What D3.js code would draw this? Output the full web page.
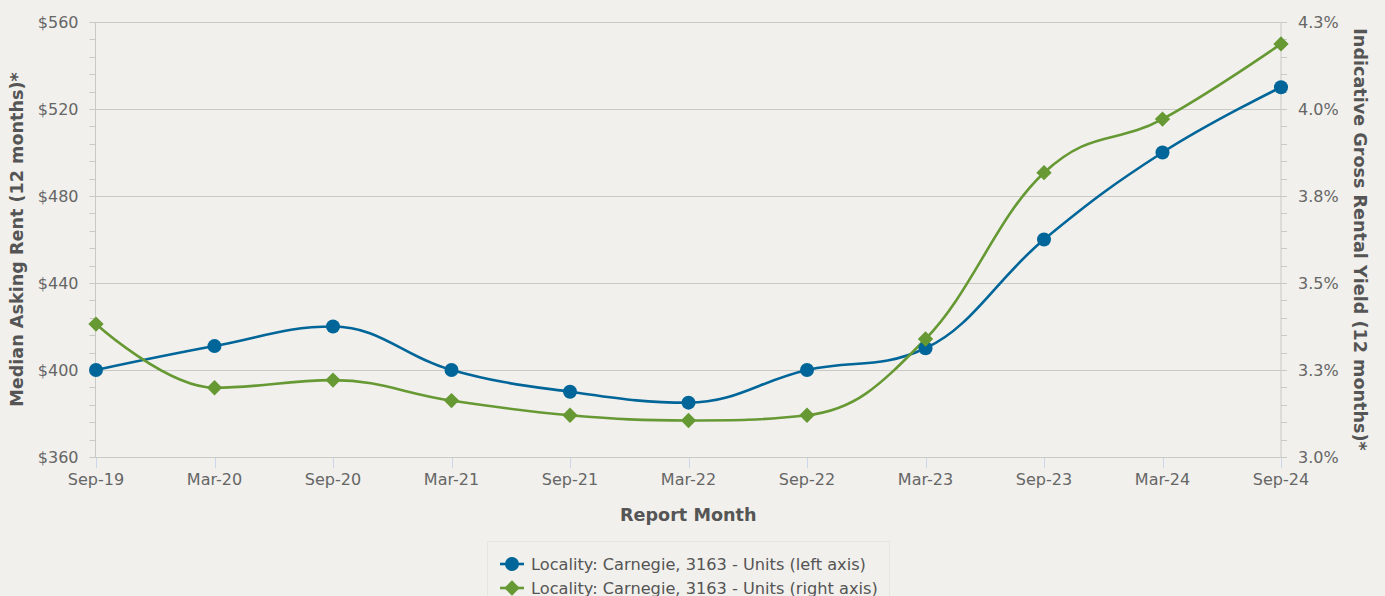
<!DOCTYPE html>
<html lang="en">
<head>
<meta charset="UTF-8">
<title>Median Asking Rent and Gross Rental Yield - Carnegie 3163 Units</title>
<script src="https://d3js.org/d3.v7.min.js"></script>
<style>
    body { margin: 0; background: #f1f0ec; }
    svg text { font-family: "DejaVu Sans", Verdana, sans-serif; }
</style>
</head>
<body>
<script>
// data
const months = ["Sep-19", "Mar-20", "Sep-20", "Mar-21", "Sep-21", "Mar-22", "Sep-22", "Mar-23", "Sep-23", "Mar-24", "Sep-24"];
const rentValues = [400, 411, 420, 400, 390, 385, 400, 410, 460, 500, 530];
const yieldValues = [3.382, 3.199, 3.221, 3.162, 3.120, 3.105, 3.120, 3.339, 3.817, 3.971, 4.187];
const rentTicks = [360, 400, 440, 480, 520, 560];
const yieldTicks = [3.0, 3.25, 3.5, 3.75, 4.0, 4.25];
const seriesNames = ["Locality: Carnegie, 3163 - Units (left axis)", "Locality: Carnegie, 3163 - Units (right axis)"];

const width = 1385, height = 596;
const margin = {top: 22, right: 104, bottom: 139, left: 95.5};
const blue = "#006699", green = "#669933";

const svg = d3.select("body").append("svg")
    .attr("width", width)
    .attr("height", height);

svg.append("rect").attr("width", width).attr("height", height).attr("fill", "#f1f0ec");

const x = d3.scalePoint()
    .domain(months)
    .range([96, width - margin.right]);

const yLeft = d3.scaleLinear()
    .domain([360, 560])
    .range([height - margin.bottom, margin.top]);

const yRight = d3.scaleLinear()
    .domain([3.0, 4.25])
    .range([height - margin.bottom, margin.top]);

const plotLeft = margin.left, plotRight = width - margin.right;

// gridlines
svg.append("g")
    .selectAll("line")
    .data(rentTicks)
    .join("line")
    .attr("x1", plotLeft).attr("x2", plotRight)
    .attr("y1", d => Math.round(yLeft(d)) + 0.5)
    .attr("y2", d => Math.round(yLeft(d)) + 0.5)
    .attr("stroke", "#c9c9c6");

// left axis with minor ticks
const minorLeft = d3.range(360, 561, 8);
const gl = svg.append("g").attr("transform", `translate(${plotLeft},0)`);
gl.append("line").attr("y1", yLeft(560)).attr("y2", yLeft(360)).attr("stroke", "#c9c9c6");
gl.selectAll("line.minor")
    .data(minorLeft)
    .join("line").attr("class", "minor")
    .attr("x1", -6).attr("x2", 0)
    .attr("y1", d => Math.round(yLeft(d)) + 0.5)
    .attr("y2", d => Math.round(yLeft(d)) + 0.5)
    .attr("stroke", "#c9c9c6");
gl.selectAll("text")
    .data(rentTicks)
    .join("text")
    .attr("x", -17)
    .attr("y", d => yLeft(d) + 6)
    .attr("text-anchor", "end")
    .attr("fill", "#666")
    .style("font-size", "16px")
    .text(d => "$" + d);

// right axis with minor ticks
const minorRight = d3.range(0, 26).map(i => 3.0 + i * 0.05);
const gr = svg.append("g").attr("transform", `translate(${plotRight},0)`);
gr.append("line").attr("y1", yRight(4.25)).attr("y2", yRight(3.0)).attr("stroke", "#c9c9c6");
gr.selectAll("line.minor")
    .data(minorRight)
    .join("line").attr("class", "minor")
    .attr("x1", 0).attr("x2", 6)
    .attr("y1", d => Math.round(yRight(d)) + 0.5)
    .attr("y2", d => Math.round(yRight(d)) + 0.5)
    .attr("stroke", "#c9c9c6");
gr.selectAll("text")
    .data(yieldTicks)
    .join("text")
    .attr("x", 17)
    .attr("y", d => yRight(d) + 6)
    .attr("fill", "#666")
    .style("font-size", "16px")
    .text(d => d.toFixed(1) + "%");

// x axis
const gx = svg.append("g").attr("transform", `translate(0,${height - margin.bottom})`);
gx.append("line").attr("x1", plotLeft).attr("x2", plotRight).attr("y1", 0.5).attr("y2", 0.5).attr("stroke", "#c9c9c6");
gx.selectAll("line.tick")
    .data(months)
    .join("line").attr("class", "tick")
    .attr("x1", d => Math.round(x(d)) + 0.5).attr("x2", d => Math.round(x(d)) + 0.5)
    .attr("y1", 1).attr("y2", 11)
    .attr("stroke", "#ccd6eb");
gx.selectAll("text")
    .data(months)
    .join("text")
    .attr("x", d => x(d))
    .attr("y", 28)
    .attr("text-anchor", "middle")
    .attr("fill", "#666")
    .style("font-size", "16px")
    .text(d => d);

// axis titles
svg.append("text")
    .attr("x", (plotLeft + plotRight) / 2)
    .attr("y", 521)
    .attr("text-anchor", "middle")
    .attr("fill", "#555")
    .style("font-size", "17.6px")
    .style("font-weight", "bold")
    .text("Report Month");

svg.append("text")
    .attr("transform", `translate(23,${(yLeft(360) + yLeft(560)) / 2}) rotate(-90)`)
    .attr("text-anchor", "middle")
    .attr("fill", "#555")
    .style("font-size", "17.6px")
    .style("font-weight", "bold")
    .text("Median Asking Rent (12 months)*");

svg.append("text")
    .attr("transform", `translate(1354,${(yRight(3.0) + yRight(4.25)) / 2}) rotate(90)`)
    .attr("text-anchor", "middle")
    .attr("fill", "#555")
    .style("font-size", "17.6px")
    .style("font-weight", "bold")
    .text("Indicative Gross Rental Yield (12 months)*");

// spline path in the style of the original charting tool
function splinePath(pts) {
    const smoothing = 1.5, denom = smoothing + 1;
    const p = d3.path();
    let lastRight = null;
    pts.forEach((pt, i) => {
        const [px, py] = pt;
        if (i === 0) { p.moveTo(px, py); return; }
        const last = pts[i - 1], next = pts[i + 1];
        let lc = null, rc = null;
        if (next) {
            let lcx = (smoothing * px + last[0]) / denom;
            let lcy = (smoothing * py + last[1]) / denom;
            let rcx = (smoothing * px + next[0]) / denom;
            let rcy = (smoothing * py + next[1]) / denom;
            let corr = 0;
            if (rcx !== lcx) corr = ((rcy - lcy) * (rcx - px)) / (rcx - lcx) + py - rcy;
            lcy += corr; rcy += corr;
            if (lcy > last[1] && lcy > py) { lcy = Math.max(last[1], py); rcy = 2 * py - lcy; }
            else if (lcy < last[1] && lcy < py) { lcy = Math.min(last[1], py); rcy = 2 * py - lcy; }
            if (rcy > next[1] && rcy > py) { rcy = Math.max(next[1], py); lcy = 2 * py - rcy; }
            else if (rcy < next[1] && rcy < py) { rcy = Math.min(next[1], py); lcy = 2 * py - rcy; }
            lc = [lcx, lcy]; rc = [rcx, rcy];
        }
        const c1 = lastRight || last;
        const c2 = lc || pt;
        p.bezierCurveTo(c1[0], c1[1], c2[0], c2[1], px, py);
        lastRight = rc;
    });
    return p.toString();
}

const rentPts = months.map((m, i) => [x(m), yLeft(rentValues[i])]);
const yieldPts = months.map((m, i) => [x(m), yRight(yieldValues[i])]);

svg.append("path")
    .attr("d", splinePath(rentPts))
    .attr("fill", "none")
    .attr("stroke", blue)
    .attr("stroke-width", 2.6);

svg.append("path")
    .attr("d", splinePath(yieldPts))
    .attr("fill", "none")
    .attr("stroke", green)
    .attr("stroke-width", 2.6);

const diamond = d3.symbol().type(d3.symbolDiamond2).size(150);

svg.append("g")
    .selectAll("circle")
    .data(rentPts)
    .join("circle")
    .attr("cx", d => d[0])
    .attr("cy", d => d[1])
    .attr("r", 7)
    .attr("fill", blue);

svg.append("g")
    .selectAll("path")
    .data(yieldPts)
    .join("path")
    .attr("transform", d => `translate(${d[0]},${d[1]})`)
    .attr("d", diamond)
    .attr("fill", green);

// legend
const legend = svg.append("g");
legend.append("rect")
    .attr("x", 487.5).attr("y", 541.5)
    .attr("width", 402).attr("height", 70)
    .attr("fill", "none")
    .attr("stroke", "#e6e5e0");

const items = legend.selectAll("g.item")
    .data(seriesNames)
    .join("g").attr("class", "item")
    .attr("transform", (d, i) => `translate(500,${564 + i * 24})`);

items.append("line")
    .attr("x1", 0).attr("x2", 24)
    .attr("stroke", (d, i) => i === 0 ? blue : green)
    .attr("stroke-width", 2.6);

items.filter((d, i) => i === 0).append("circle")
    .attr("cx", 12).attr("r", 7).attr("fill", blue);

items.filter((d, i) => i === 1).append("path")
    .attr("transform", "translate(12,0)")
    .attr("d", diamond)
    .attr("fill", green);

items.append("text")
    .attr("x", 31)
    .attr("y", 6)
    .attr("fill", "#555")
    .style("font-size", "16.2px")
    .text(d => d);
</script>
</body>
</html>
